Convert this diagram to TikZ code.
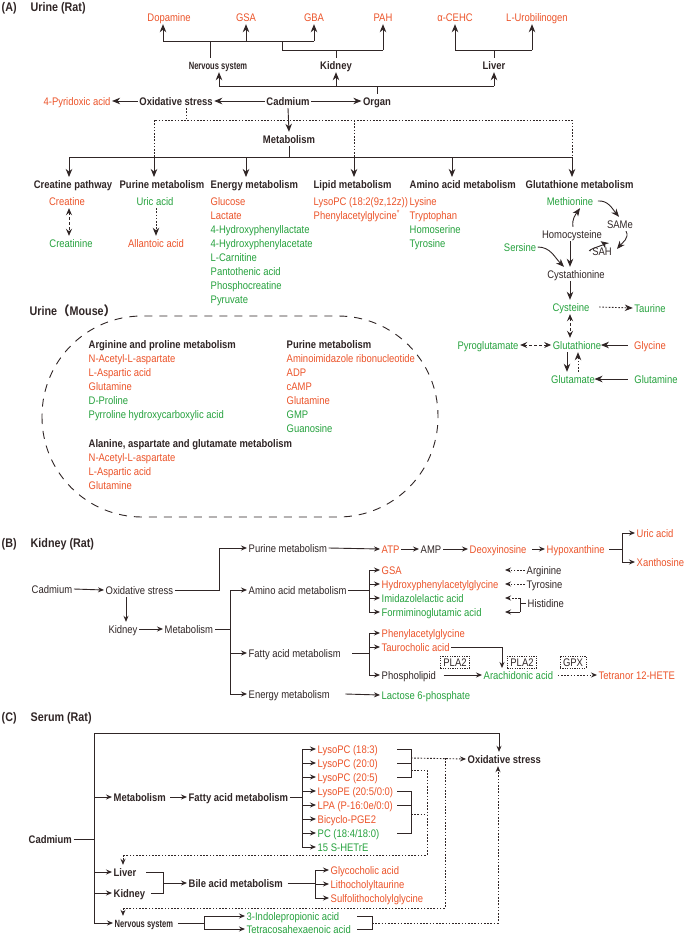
\documentclass[tikz,border=0pt]{standalone}
\usepackage{fontspec}
\setmainfont{Liberation Sans}[FakeStretch=0.86]
\newfontfamily\cjk{Noto Sans CJK SC}
\newfontfamily\narrowfont{Liberation Sans}[FakeStretch=0.72]
\usetikzlibrary{arrows.meta}
\definecolor{rd}{RGB}{236,84,42}
\definecolor{gn}{RGB}{38,162,62}
\definecolor{ln}{RGB}{48,38,38}
\tikzset{
 txt/.style={inner xsep=1.5pt, inner ysep=3pt, text height=8pt, text depth=0pt, font=\fontsize{11}{13}\selectfont},
 kt/.style={txt, text=ln},
 bt/.style={txt, text=ln, font=\fontsize{11}{13}\selectfont\bfseries},
 nst/.style={txt, text=ln, font=\narrowfont\fontsize{10.5}{12}\selectfont\bfseries},
 ht/.style={txt, text=ln, font=\fontsize{12.5}{14}\selectfont\bfseries, anchor=west},
 rt/.style={txt, text=rd},
 gt/.style={txt, text=gn},
 lw/.style={anchor=west},
 wire/.style={draw=ln, line width=0.9pt},
 arA/.style={wire, -{Stealth[length=8pt,width=6.5pt,inset=2.5pt]}},
 arS/.style={wire, -{Stealth[length=6pt,width=5pt,inset=2pt]}},
 dbA/.style={wire, {Stealth[length=7pt,width=6pt,inset=2.5pt]}-{Stealth[length=7pt,width=6pt,inset=2.5pt]}},
 dots/.style={dash pattern=on 1.6pt off 1.6pt},
 dsh/.style={dash pattern=on 3pt off 2pt},
 dbox/.style={draw=ln, line width=0.6pt, dash pattern=on 1.2pt off 1.2pt, inner xsep=3pt, inner ysep=2pt, text height=8pt, text depth=0pt, font=\fontsize{11}{13}\selectfont, text=ln},
}
\begin{document}
\begin{tikzpicture}[x=1pt,y=-1pt]
\fill[white] (0,0) rectangle (685,937);
\useasboundingbox (0,0) rectangle (685,937);

% ================= (A) =================
\node[ht] (hA) at (0,7) {(A)};
\node[ht] (tA) at (29,7) {Urine (Rat)};

\node[rt] (dop) at (169,17) {Dopamine};
\node[rt] (gsa) at (246,17) {GSA};
\node[rt] (gba) at (314,17) {GBA};
\node[rt] (pah) at (383,17) {PAH};
\node[rt] (cehc) at (455,17) {α-CEHC};
\node[rt] (uro) at (537,17) {L-Urobilinogen};

\node[nst] (ns) at (218,65) {Nervous system};
\node[bt] (kid) at (336,65) {Kidney};
\node[bt] (liv) at (494,65) {Liver};
\node[bt] (cad) at (288,101) {Cadmium};
\node[bt] (org) at (377,101) {Organ};
\node[bt] (oxs) at (176,101) {Oxidative stress};
\node[rt] (pyr) at (77,101) {4-Pyridoxic acid};
\node[bt] (met) at (289,139) {Metabolism};

\draw[wire] (163,41) -- (314,41);
\draw[arA] (163,41) -- (dop.south -| 163,0);
\draw[arA] (gsa.south |- 0,41) -- (gsa.south);
\draw[arA] (gba.south |- 0,41) -- (gba.south);
\draw[wire] (210,41) -- (ns.north -| 210,0);
\draw[wire] (282,41) -- (282,50) -- (383,50);
\draw[arA] (pah.south |- 0,50) -- (pah.south);
\draw[wire] (kid.north) -- (kid.north |- 0,50);
\draw[wire] (455,50) -- (532,50);
\draw[arA] (cehc.south |- 0,50) -- (cehc.south);
\draw[arA] (532,50) -- (uro.south -| 532,0);
\draw[wire] (liv.north) -- (liv.north |- 0,50);
\draw[wire] (219,86) -- (494,86);
\draw[arA] (219,86) -- (ns.south -| 219,0);
\draw[arA] (kid.south |- 0,86) -- (kid.south);
\draw[arA] (liv.south |- 0,86) -- (liv.south);
\draw[wire] (org.north) -- (org.north |- 0,86);
\draw[arA] (cad.east) -- (org.west);
\draw[arA] (cad.west) -- (oxs.east);
\draw[arA] (oxs.west) -- (pyr.east);
\draw[wire,dots] (oxs.south -| 186,0) -- (186,120);
\draw[wire,dots] (154,157) |- (572,120) -- (572,157);
\draw[wire,dots] (354,120) -- (354,157);
\draw[arA] (cad.south) -- (met.north);
\draw[wire] (met.south) -- (met.south |- 0,157);
\draw[wire] (69,157) -- (572,157);
\foreach \x in {69,154,246,354,452,572} \draw[arA] (\x,157) -- (\x,177);

\node[bt] (cp) at (73,184) {Creatine pathway};
\node[bt] (pm) at (162,184) {Purine metabolism};
\node[bt,lw] (em) at (209,184) {Energy metabolism};
\node[bt,lw] (lm) at (312,184) {Lipid metabolism};
\node[bt,lw] (am) at (408,184) {Amino acid metabolism};
\node[bt,lw] (gm) at (524,184) {Glutathione metabolism};

\node[rt] (cre) at (67,201) {Creatine};
\node[gt] (crn) at (71,243) {Creatinine};
\draw[dbA,dsh] (cre.south -| 69,0) -- (crn.north -| 69,0);
\node[gt] (uric) at (155,201) {Uric acid};
\node[rt] (all) at (156,243) {Allantoic acid};
\draw[arA,dots] (uric.south -| 156,0) -- (all.north -| 156,0);

\node[rt,lw] (e1) at (209,201) {Glucose};
\node[rt,lw] (e2) at (209,215) {Lactate};
\node[gt,lw] (e3) at (209,229) {4-Hydroxyphenyllactate};
\node[gt,lw] (e4) at (209,243) {4-Hydroxyphenylacetate};
\node[gt,lw] (e5) at (209,257) {L-Carnitine};
\node[gt,lw] (e6) at (209,271) {Pantothenic acid};
\node[gt,lw] (e7) at (209,285) {Phosphocreatine};
\node[gt,lw] (e8) at (209,299) {Pyruvate};

\node[rt,lw] (l1) at (312,201) {LysoPC (18:2(9z,12z))};
\node[rt,lw] (l2) at (312,215) {Phenylacetylglycine\textsuperscript{*}};

\node[rt,lw] (a1) at (408,201) {Lysine};
\node[rt,lw] (a2) at (408,215) {Tryptophan};
\node[gt,lw] (a3) at (408,229) {Homoserine};
\node[gt,lw] (a4) at (408,243) {Tyrosine};

% glutathione metabolism
\node[gt] (meth) at (570,201) {Methionine};
\node[kt] (same) at (620,224) {SAMe};
\node[kt] (hcy) at (572,234) {Homocysteine};
\node[kt] (sah) at (602,251) {SAH};
\node[gt] (ser) at (520,247) {Sersine};
\node[kt] (cysta) at (576,274) {Cystathionine};
\node[gt] (cyst) at (571,307) {Cysteine};
\node[gt] (tau) at (650,308) {Taurine};
\node[gt] (gsh) at (577,345) {Glutathione};
\node[gt] (pyg) at (488,345) {Pyroglutamate};
\node[rt] (gly) at (650,345) {Glycine};
\node[gt] (glu) at (573,379) {Glutamate};
\node[gt] (gln) at (656,379) {Glutamine};

\coordinate (sahin) at (617,249);
\draw[arA] (hcy.north -| 573,0) to[out=100,in=-125] (meth.south -| 580,0);
\draw[arA] ([xshift=3pt]meth.east) to[out=5,in=130] ([xshift=-1pt]same.north);
\draw[arA] ([xshift=6pt]same.south) to[out=-60,in=50] (sahin);
\draw[arA] (sah.west) to[out=175,in=-35] ([xshift=-3pt]hcy.south east);
\draw[arA] (ser.east) to[out=0,in=135] (cysta.north -| 564,0);
\draw[arA] (hcy.south -| 570,0) -- (cysta.north -| 570,0);
\draw[arA] (cysta.south -| 570,0) -- (cyst.north -| 570,0);
\draw[dbA,dsh] (cyst.south -| 570,0) -- (gsh.north -| 570,0);
\draw[arA,dots] (cyst.east) ++(8,0) -- (tau.west);
\draw[dbA,dsh] (pyg.east) -- (gsh.west);
\draw[arA] (gly.west) ++(-5,0) -- ([xshift=-2pt]gsh.east);
\draw[arA] (gln.west) ++(-5,0) -- ([xshift=-2pt]glu.east);
\draw[arA] (gsh.south -| 567,0) -- (glu.north -| 567,0);
\draw[arA,dots] (glu.north -| 578,0) -- (gsh.south -| 578,0);

% ================= Urine (Mouse) =================
\node[bt,lw,font=\fontsize{12.5}{14}\selectfont\bfseries] (mt) at (28,311) {Urine{\cjk（}Mouse{\cjk）}};
\draw[wire,dash pattern=on 8pt off 7pt,rounded corners=100pt] (42,316) rectangle (438,517);

\node[bt,lw] (ap) at (87,344) {Arginine and proline metabolism};
\node[rt,lw] (ap1) at (87,358) {N-Acetyl-L-aspartate};
\node[rt,lw] (ap2) at (87,372) {L-Aspartic acid};
\node[rt,lw] (ap3) at (87,386) {Glutamine};
\node[gt,lw] (ap4) at (87,400) {D-Proline};
\node[gt,lw] (ap5) at (87,414) {Pyrroline hydroxycarboxylic acid};
\node[bt,lw] (aa) at (87,443) {Alanine, aspartate and glutamate metabolism};
\node[rt,lw] (aa1) at (87,457) {N-Acetyl-L-aspartate};
\node[rt,lw] (aa2) at (87,471) {L-Aspartic acid};
\node[rt,lw] (aa3) at (87,485) {Glutamine};
\node[bt,lw] (pu) at (285,344) {Purine metabolism};
\node[rt,lw] (pu1) at (285,358) {Aminoimidazole ribonucleotide};
\node[rt,lw] (pu2) at (285,372) {ADP};
\node[rt,lw] (pu3) at (285,386) {cAMP};
\node[rt,lw] (pu4) at (285,400) {Glutamine};
\node[gt,lw] (pu5) at (285,414) {GMP};
\node[gt,lw] (pu6) at (285,428) {Guanosine};

% ================= (B) =================
\node[ht] (hB) at (0,543) {(B)};
\node[ht] (tB) at (29,543) {Kidney (Rat)};

\node[kt,lw] (bcad) at (30,589) {Cadmium};
\node[kt,lw] (boxs) at (104,590) {Oxidative stress};
\node[kt] (bkid) at (123,629) {Kidney};
\node[kt,lw] (bmet) at (163,629) {Metabolism};
\node[kt,lw] (bpur) at (247,548) {Purine metabolism};
\node[kt,lw] (bam) at (247,590) {Amino acid metabolism};
\node[kt,lw] (bfat) at (247,653) {Fatty acid metabolism};
\node[kt,lw] (ben) at (247,694) {Energy metabolism};

\node[rt,lw] (atp) at (380,549) {ATP};
\node[kt,lw] (amp) at (419,549) {AMP};
\node[rt,lw] (dxi) at (468,549) {Deoxyinosine};
\node[rt,lw] (hyp) at (545,549) {Hypoxanthine};
\node[rt,lw] (buric) at (635,533) {Uric acid};
\node[rt,lw] (xan) at (635,562) {Xanthosine};

\node[rt,lw] (gsa2) at (380,570) {GSA};
\node[rt,lw] (hpag) at (380,584) {Hydroxyphenylacetylglycine};
\node[gt,lw] (ila) at (380,598) {Imidazolelactic acid};
\node[gt,lw] (fga) at (380,612) {Formiminoglutamic acid};
\node[kt,lw] (arg) at (525,570) {Arginine};
\node[kt,lw] (tyr) at (525,584) {Tyrosine};
\node[kt,lw] (his) at (526,603) {Histidine};

\node[rt,lw] (pag) at (380,633) {Phenylacetylglycine};
\node[rt,lw] (tca) at (380,647) {Taurocholic acid};
\node[kt,lw] (phl) at (380,675) {Phospholipid};
\node[gt,lw] (ara) at (482,675) {Arachidonic acid};
\node[rt,lw] (tet) at (597,675) {Tetranor 12-HETE};
\node[dbox] (pla1) at (455,662) {PLA2};
\node[dbox] (pla2) at (522,662) {PLA2};
\node[dbox] (gpx) at (573,662) {GPX};
\node[gt,lw] (lac) at (380,695) {Lactose 6-phosphate};

\draw[arS] (bcad.east) -- (boxs.west);
\draw[arS] (boxs.east) -- (219,590) |- (bpur.west);
\draw[arS] (boxs.south -| 126,0) -- (bkid.north -| 126,0);
\draw[arS] (bkid.east) -- (bmet.west);
\draw[wire] (bmet.east) -- (230,629);
\draw[arS] (230,590) -- (bam.west);
\draw[arS] (230,653) -- (bfat.west);
\draw[arS] (230,590) |- (ben.west);

\draw[arS] (bpur.east) -- (atp.west);
\draw[arS] (atp.east) -- (amp.west);
\draw[arS] (amp.east) -- (dxi.west);
\draw[arS] (dxi.east) ++(4,0) -- (hyp.west);
\draw[wire] (hyp.east) ++(3,0) -- (622,549);
\draw[arS] (622,549) |- (buric.west);
\draw[arS] (622,549) |- (xan.west);

\draw[wire] (bam.east) -- (369,590);
\draw[arS] (369,590) |- (gsa2.west);
\draw[arS] (369,590) |- (hpag.west);
\draw[arS] (369,590) |- (ila.west);
\draw[arS] (369,590) |- (fga.west);
\draw[arS,dots] (arg.west) -- (505,570);
\draw[arS,dots] (tyr.west) -- (505,584);
\draw[wire] (his.west) -- (520,603);
\draw[wire] (520,598) -- (520,612);
\draw[arS,dots] (520,598) -- (505,598);
\draw[arS] (520,612) -- (505,612);

\draw[wire] (bfat.east) ++(10,0) -- (369,653);
\draw[arS] (369,653) |- (pag.west);
\draw[arS] (369,653) |- (tca.west);
\draw[arS] (369,653) |- (phl.west);
\draw[arS] (tca.east) -| (502,668);
\draw[arS] (phl.east) ++(6,0) -- (ara.west);
\draw[arS,dots] (ara.east) ++(3,0) -- (tet.west);
\draw[arS] (ben.east) ++(14,0) -- (lac.west);

% ================= (C) =================
\node[ht] (hC) at (0,717) {(C)};
\node[ht] (tC) at (29,717) {Serum (Rat)};

\node[bt,lw] (ccad) at (27,839) {Cadmium};
\node[bt,lw] (cmet) at (112,797) {Metabolism};
\node[bt,lw] (cfat) at (187,797) {Fatty acid metabolism};
\node[bt,lw] (cliv) at (112,872) {Liver};
\node[bt,lw] (ckid) at (112,893) {Kidney};
\node[bt,lw] (cbile) at (187,883) {Bile acid metabolism};
\node[nst,lw] (cns) at (113,923) {Nervous system};
\node[bt,lw] (coxs) at (466,759) {Oxidative stress};

\node[rt,lw] (f1) at (316,749) {LysoPC (18:3)};
\node[rt,lw] (f2) at (316,763) {LysoPC (20:0)};
\node[rt,lw] (f3) at (316,777) {LysoPC (20:5)};
\node[rt,lw] (f4) at (316,791) {LysoPE (20:5/0:0)};
\node[rt,lw] (f5) at (316,805) {LPA (P-16:0e/0:0)};
\node[rt,lw] (f6) at (316,819) {Bicyclo-PGE2};
\node[gt,lw] (f7) at (316,833) {PC (18:4/18:0)};
\node[gt,lw] (f8) at (316,847) {15 S-HETrE};

\node[rt,lw] (b1) at (329,870) {Glycocholic acid};
\node[rt,lw] (b2) at (329,884) {Lithocholyltaurine};
\node[rt,lw] (b3) at (329,898) {Sulfolithocholylglycine};

\node[gt,lw] (n1) at (245,916) {3-Indolepropionic acid};
\node[gt,lw] (n2) at (245,929) {Tetracosahexaenoic acid};

\draw[wire] (ccad.east) -- (94,839);
\draw[arS] (94,839) |- (499,733) -- (coxs.north -| 499,0);
\draw[arS] (94,797) -- (cmet.west);
\draw[arS] (94,872) -- (cliv.west);
\draw[arS] (94,893) -- (ckid.west);
\draw[arS] (94,839) |- (cns.west);
\draw[arS] (cmet.east) ++(3,0) -- (cfat.west);
\draw[wire] (cfat.east) -- (302,797);
\foreach \n in {f1,f2,f3,f4,f5,f6,f7,f8} \draw[arS] (302,797) |- (\n.west);

\draw[wire] (397,749) -- (411,749) -- (411,777) -- (397,777);
\draw[wire] (397,763) -- (411,763);
\draw[wire] (397,791) -- (411,791) -- (411,833) -- (397,833);
\draw[wire] (397,805) -- (411,805);
\draw[arS,dots] (411,758) -- (coxs.west);
\draw[wire,dots] (445,758) -- (445,908) -- (123,908);
\draw[arS,dots] (123,908) -- (cns.north -| 123,0);
\draw[wire,dots] (411,770) -- (427,770) -- (427,855) -- (123,855);
\draw[arS,dots] (123,855) -- (cliv.north -| 123,0);
\draw[wire,dots] (411,814) -- (427,814);

\draw[wire] (cliv.east) ++(8,0) -- (163,872) -- (163,893) -- ([xshift=4pt]ckid.east);
\draw[arS] (163,883) -- (cbile.west);
\draw[wire] (cbile.east) ++(3,0) -- (315,883);
\foreach \n in {b1,b2,b3} \draw[arS] (315,883) |- (\n.west);

\draw[wire] (cns.east) ++(3,0) -- (204,923);
\draw[arS] (204,923) |- (n1.west);
\draw[arS] (204,923) |- (n2.west);
\draw[wire] (357,916) -- (372,916) -- (372,929) -- (357,929);
\draw[arS,dots] (372,923) -| (coxs.south -| 498,0);
\end{tikzpicture}
\end{document}
